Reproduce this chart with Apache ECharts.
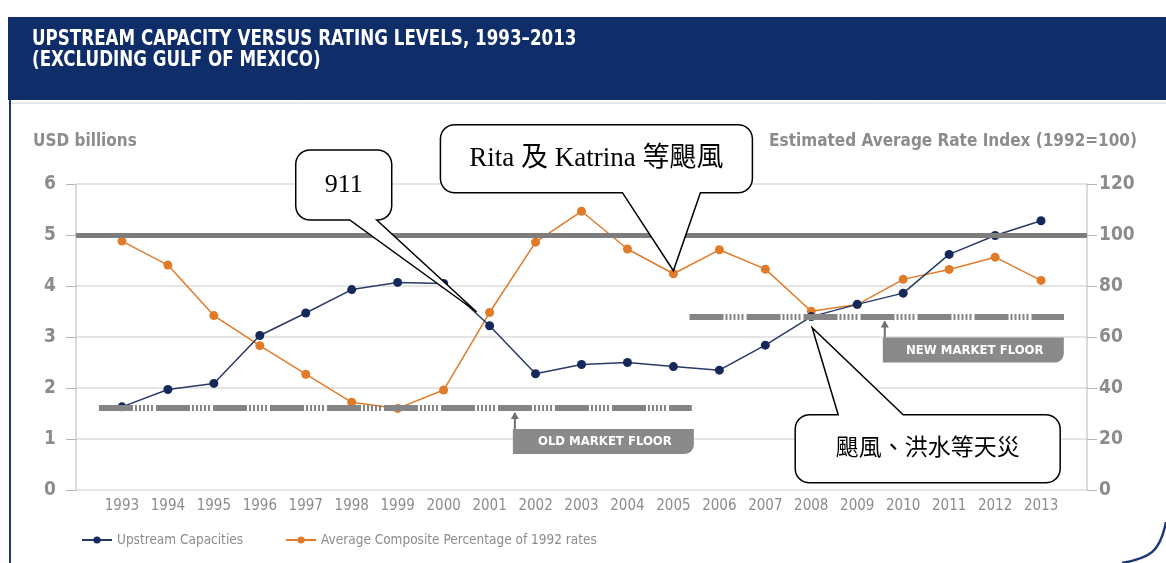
<!DOCTYPE html>
<html>
<head>
<meta charset="utf-8">
<script src="https://cdn.jsdelivr.net/npm/echarts@6/dist/echarts.min.js"></script>
<style>
html, body { margin: 0; padding: 0; background: #fff; }
#main { width: 1166px; height: 563px; }
</style>
</head>
<body>
<div id="main"></div>
<script>
// data
var years = [1993, 1994, 1995, 1996, 1997, 1998, 1999, 2000, 2001, 2002, 2003,
             2004, 2005, 2006, 2007, 2008, 2009, 2010, 2011, 2012, 2013];
var upstreamCap = [1.63, 1.97, 2.09, 3.03, 3.47, 3.93, 4.07, 4.05, 3.22, 2.28, 2.46,
                   2.50, 2.42, 2.35, 2.84, 3.40, 3.64, 3.86, 4.62, 4.99, 5.28];
var compositePct = [97.6, 88.2, 68.4, 56.6, 45.4, 34.4, 32.0, 39.2, 69.6, 97.2, 109.3,
                    94.5, 84.8, 94.2, 86.6, 70.1, 72.7, 82.6, 86.5, 91.3, 82.2];
var leftTicks = [0, 1, 2, 3, 4, 5, 6];
var rightTicks = [0, 20, 40, 60, 80, 100, 120];
var benchmark = 5;                          // = 100 on the index axis
var oldFloor = { from: 1992.5, to: 2005.4, y: 1.61, arrowAt: 2001.55, text: 'OLD MARKET FLOOR' };
var newFloor = { from: 2005.35, to: 2013.5, y: 3.40, arrowAt: 2009.6, text: 'NEW MARKET FLOOR' };
// callouts: text + point they aim at (axis 0 = left, 1 = right)
var notes = [
    { text: '911', at: [2000.72, 3.49], axis: 0 },
    { text: 'Rita 及 Katrina 等颶風', at: [2005, 86], axis: 1 },
    { text: '颶風、洪水等天災', at: [2008.02, 3.18], axis: 0 }
];

var NARROW = "'Liberation Sans Narrow','DejaVu Sans Condensed','Roboto Condensed','Liberation Sans',sans-serif";
var SERIF = "'Liberation Serif','DejaVu Serif','Noto Sans CJK TC',serif";
var GREY = '#8c8c8c';
var NAVY = '#15295a';
var ORANGE = '#e07b2a';

var myChart = echarts.init(document.getElementById('main'), null, { renderer: 'canvas' });

var option = {
    animation: false,
    backgroundColor: '#fff',
    title: [
        {
            text: 'USD billions', left: 28, top: 128,
            textStyle: { color: GREY, fontFamily: NARROW, fontWeight: 'bold', fontSize: 17 }
        },
        {
            text: 'Estimated Average Rate Index (1992=100)', right: 24, top: 128,
            textStyle: { color: GREY, fontFamily: NARROW, fontWeight: 'bold', fontSize: 17 }
        }
    ],
    legend: {
        data: ['Upstream Capacities', 'Average Composite Percentage of 1992 rates'],
        left: 76, top: 528,
        itemWidth: 30, itemHeight: 9, itemGap: 42,
        textStyle: { color: GREY, fontFamily: NARROW, fontSize: 13.5 }
    },
    grid: { left: 76, right: 79, top: 184, bottom: 73 },
    xAxis: {
        type: 'value', min: 1992, max: 2014, interval: 1,
        axisLine: { show: false },
        axisTick: { show: false },
        splitLine: { show: false },
        axisLabel: {
            color: GREY, fontFamily: NARROW, fontSize: 15, margin: 9,
            formatter: function (v) { return years.indexOf(v) >= 0 ? String(v) : ''; }
        }
    },
    yAxis: [
        {
            type: 'value', min: leftTicks[0], max: leftTicks[leftTicks.length - 1], interval: 1,
            axisLine: { show: true, lineStyle: { color: '#cfcfcf', width: 1.5 } },
            axisTick: { show: true, length: 10, lineStyle: { color: '#b5b5b5' } },
            axisLabel: { color: GREY, fontFamily: NARROW, fontWeight: 'bold', fontSize: 19, margin: 20 },
            splitLine: { lineStyle: { color: '#dcdcdc', width: 1.5 } }
        },
        {
            type: 'value', min: rightTicks[0], max: rightTicks[rightTicks.length - 1], interval: 20,
            axisLine: { show: true, lineStyle: { color: '#cfcfcf', width: 1.5 } },
            axisTick: { show: true, length: 10, lineStyle: { color: '#b5b5b5' } },
            axisLabel: { color: GREY, fontFamily: NARROW, fontWeight: 'bold', fontSize: 19, margin: 12 },
            splitLine: { show: false }
        }
    ],
    series: [
        {
            // reference lines only
            name: 'floors', type: 'line', data: [], z: 1, silent: true,
            markLine: {
                silent: true, symbol: 'none', label: { show: false },
                data: [
                    { yAxis: benchmark, lineStyle: { color: '#7d7d7d', width: 5, type: 'solid' } },
                    [{ coord: [oldFloor.from, oldFloor.y] }, { coord: [oldFloor.to, oldFloor.y] }],
                    [{ coord: [newFloor.from, newFloor.y] }, { coord: [newFloor.to, newFloor.y] }]
                ],
                lineStyle: {
                    color: '#858585', width: 6,
                    type: [34, 2, 2, 2, 2, 2, 2, 2, 2, 2, 2, 3]
                }
            }
        },
        {
            name: 'Upstream Capacities', type: 'line', yAxisIndex: 0, z: 3,
            data: years.map(function (y, i) { return [y, upstreamCap[i]]; }),
            symbol: 'circle', symbolSize: 9,
            itemStyle: { color: NAVY },
            lineStyle: { color: '#2a3a66', width: 1.5 }
        },
        {
            name: 'Average Composite Percentage of 1992 rates', type: 'line', yAxisIndex: 1, z: 2,
            data: years.map(function (y, i) { return [y, compositePct[i]]; }),
            symbol: 'circle', symbolSize: 9,
            itemStyle: { color: ORANGE },
            lineStyle: { color: ORANGE, width: 1.5 }
        }
    ]
};

myChart.setOption(option);

// quarter arc points, used for the rounded bubble corners
function arc(cx, cy, r, a0, a1) {
    var pts = [];
    for (var k = 0; k <= 6; k++) {
        var a = (a0 + (a1 - a0) * k / 6) * Math.PI / 180;
        pts.push([cx + r * Math.cos(a), cy + r * Math.sin(a)]);
    }
    return pts;
}

// speech bubble outline: rounded box with a pointed tail
function bubblePoints(x0, y0, x1, y1, r, side, a, c, tx, ty) {
    var p = [];
    if (side === 'top') p.push([a, y0], [tx, ty], [c, y0]);
    p = p.concat(arc(x1 - r, y0 + r, r, -90, 0));
    p = p.concat(arc(x1 - r, y1 - r, r, 0, 90));
    if (side === 'bottom') p.push([c, y1], [tx, ty], [a, y1]);
    p = p.concat(arc(x0 + r, y1 - r, r, 90, 180));
    p = p.concat(arc(x0 + r, y0 + r, r, 180, 270));
    return p;
}

// box offsets from the tip, in pixels
var bubbleLayout = [
    { box: [-181, -162, -85, -92], side: 'bottom', tail: [-127, -100], fontSize: 26 },
    { box: [-233, -146, 79, -78], side: 'bottom', tail: [-51, 27], fontSize: 27 },
    { box: [-17, 87, 248, 155], side: 'top', tail: [26, 91], fontSize: 23 }
];

function toPx(axis, pt) {
    return myChart.convertToPixel({ xAxisIndex: 0, yAxisIndex: axis }, pt);
}

var graphics = [
    { type: 'rect', z: -10, shape: { x: 8, y: 17, width: 1160, height: 83 }, style: { fill: '#0f2d68' } },
    {
        type: 'text', z: 1, x: 32, y: 29, scaleX: 0.885,
        style: {
            text: 'UPSTREAM CAPACITY VERSUS RATING LEVELS, 1993\u20132013\n(EXCLUDING GULF OF MEXICO)',
            fill: '#fff', font: 'bold 21px ' + NARROW, lineHeight: 21
        }
    },
    { type: 'line', z: -10, shape: { x1: 8, y1: 103, x2: 1166, y2: 103 }, style: { stroke: '#c9cdd6', lineWidth: 1 } },
    { type: 'line', z: -10, shape: { x1: 10, y1: 100, x2: 10, y2: 563 }, style: { stroke: '#1d3a78', lineWidth: 2 } },
    {
        type: 'bezierCurve', z: -10,
        shape: { x1: 1166, y1: 522, cpx1: 1160, cpy1: 552, cpx2: 1150, cpy2: 558, x2: 1122, y2: 563 },
        style: { fill: null, stroke: '#1d3a78', lineWidth: 2.5 }
    }
];

notes.forEach(function (n, i) {
    var t = toPx(n.axis, n.at);
    var L = bubbleLayout[i];
    var x0 = t[0] + L.box[0], y0 = t[1] + L.box[1], x1 = t[0] + L.box[2], y1 = t[1] + L.box[3];
    graphics.push({
        type: 'polygon', z: 20,
        shape: { points: bubblePoints(x0, y0, x1, y1, 14, L.side, t[0] + L.tail[0], t[0] + L.tail[1], t[0], t[1]) },
        style: { fill: '#fff', stroke: '#000', lineWidth: 1.5 }
    });
    graphics.push({
        type: 'text', z: 21,
        x: (x0 + x1) / 2, y: (y0 + y1) / 2,
        style: { text: n.text, fill: '#000', font: L.fontSize + 'px ' + SERIF, align: 'center', verticalAlign: 'middle' }
    });
});

[oldFloor, newFloor].forEach(function (f) {
    var p = toPx(0, [f.arrowAt, f.y]);
    var bx = p[0] - 2, by = p[1] + 21;
    graphics.push({ type: 'line', z: 5, shape: { x1: p[0], y1: p[1] + 5, x2: p[0], y2: by }, style: { stroke: '#6f6f6f', lineWidth: 2 } });
    graphics.push({ type: 'polygon', z: 5, shape: { points: [[p[0] - 4, p[1] + 11], [p[0] + 4, p[1] + 11], [p[0], p[1] + 4]] }, style: { fill: '#6f6f6f' } });
    graphics.push({ type: 'rect', z: 5, shape: { x: bx, y: by, width: 181, height: 25, r: [0, 0, 9, 0] }, style: { fill: '#8a8a8a' } });
    graphics.push({
        type: 'text', z: 6, x: bx + 92, y: by + 13,
        style: { text: f.text, fill: '#fff', font: 'bold 13px ' + NARROW, align: 'center', verticalAlign: 'middle' }
    });
});

myChart.setOption({ graphic: graphics });
</script>
</body>
</html>
